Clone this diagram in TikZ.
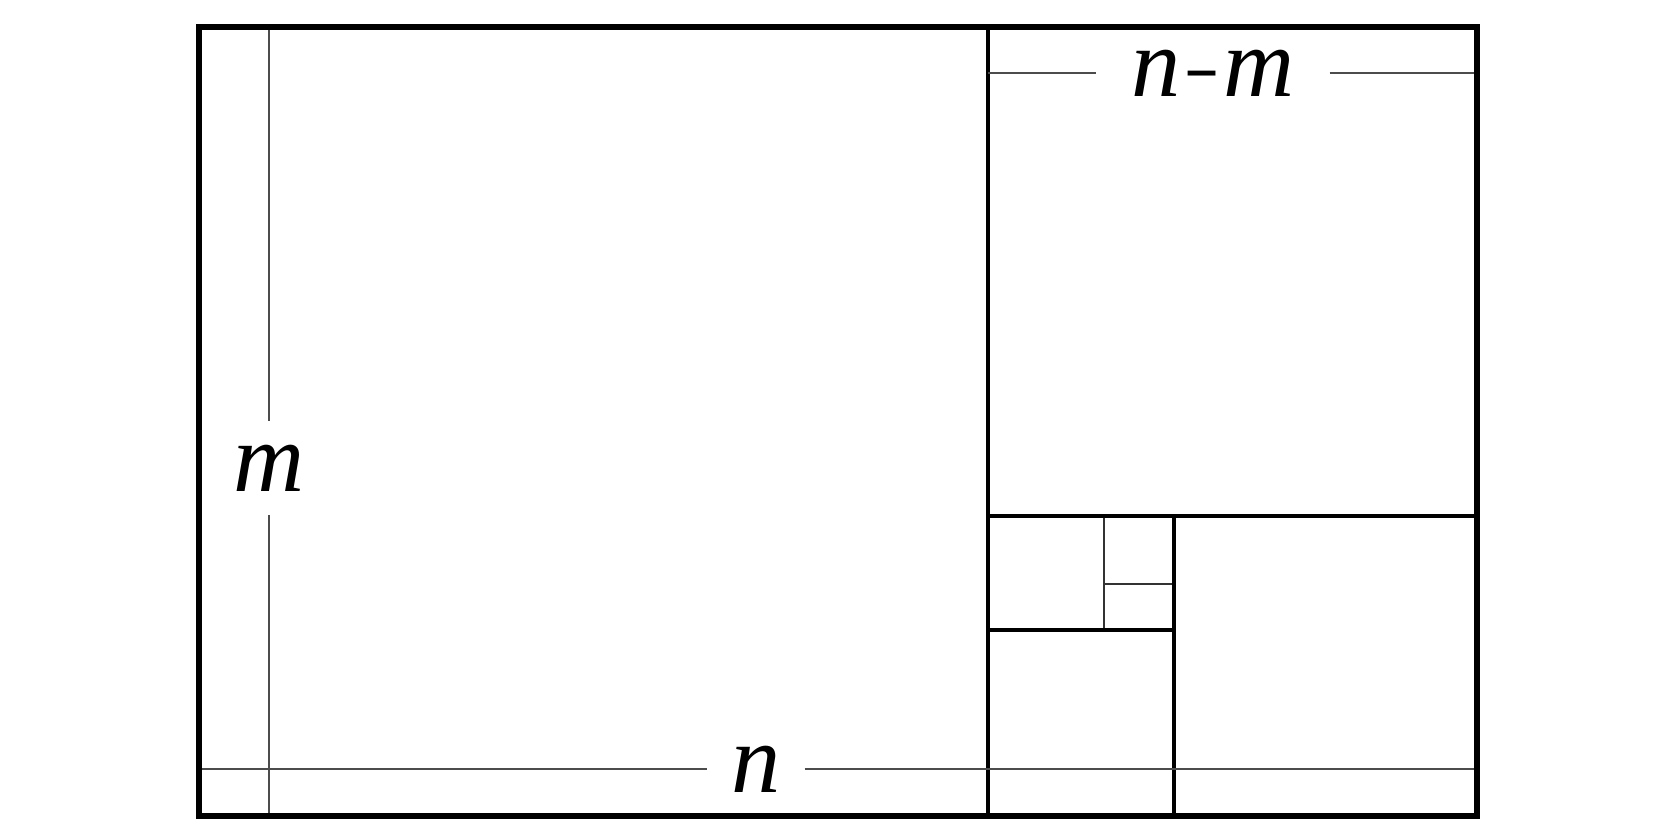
\documentclass[tikz,border=0pt]{standalone}
\usepackage{fontspec}
\usepackage{graphicx}
\setmainfont{Liberation Serif}
\usetikzlibrary{calc, positioning}
\tikzset{
	frame/.style = {line width=1.7pt},
	cutA/.style = {line width=1.4pt},
	cutB/.style = {line width=1pt},
	cutC/.style = {line width=0.6pt, black!80},
	guide/.style = {line width=0.5pt, black!70},
	lbl/.style = {font=\fontsize{28}{34}\selectfont\itshape, inner sep=0.24cm, outer sep=0pt}
}

\begin{document}
\begin{tikzpicture}
		\useasboundingbox (0, 0) rectangle (16.8, 8.4);
		
		\coordinate (SW) at (1.99, 0.24);
		\coordinate (NE) at (14.77, 8.13);
		\coordinate (S1) at (9.88, 0.24);
		\coordinate (N1) at (9.88, 8.13);
		\coordinate (C1) at (9.88, 3.24);
		\coordinate (E1) at (14.77, 3.24);
		\coordinate (S2) at (11.74, 0.24);
		\coordinate (C2) at (11.74, 3.24);
		\coordinate (W3) at (9.88, 2.10);
		\coordinate (E3) at (11.74, 2.10);
		\coordinate (S4) at (11.04, 2.10);
		\coordinate (N4) at (11.04, 3.24);
		\coordinate (W5) at (11.04, 2.56);
		\coordinate (E5) at (11.74, 2.56);
		
		% squares
		\draw[cutC] (W5) -- (E5);
		\draw[cutC] (S4) -- (N4);
		\draw[cutB] (W3) -- (E3);
		\draw[cutB] (S2) -- (C2);
		\draw[cutA] (C1) -- (E1);
		\draw[cutA] (S1) -- (N1);
		
		% guides with labels
		\node[lbl] (m) at (2.69, 3.72) {m};
		\node[lbl] (n) at (7.56, 0.71) {n};
		\node[lbl, inner xsep=0.35cm] (nm) at (12.13, 7.67) {n\kern0.08em\scalebox{0.55}[1]{--}\kern0.08em m};
		
		\coordinate (mT) at (2.69, 8.13);
		\coordinate (mB) at (2.69, 0.24);
		\coordinate (nL) at (1.99, 0.71);
		\coordinate (nR) at (14.77, 0.71);
		\coordinate (nmL) at (9.88, 7.67);
		\coordinate (nmR) at (14.77, 7.67);
		
		\draw[guide] (mT) -- (m);
		\draw[guide] (m) -- (mB);
		\draw[guide] (nL) -- (n);
		\draw[guide] (n) -- (nR);
		\draw[guide] (nmL) -- (nm);
		\draw[guide] (nm) -- (nmR);
		
		\draw[frame] (SW) rectangle (NE);
	\end{tikzpicture}
\end{document}
